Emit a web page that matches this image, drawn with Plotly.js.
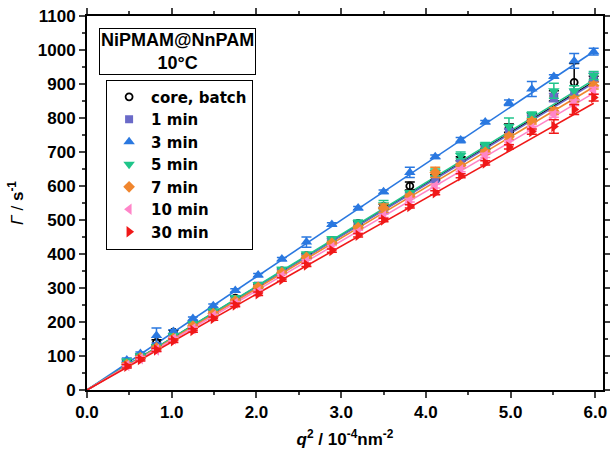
<!DOCTYPE html>
<html>
<head>
<meta charset="utf-8">
<script src="https://cdn.plot.ly/plotly-3.0.1.min.js"></script>
<style>html,body{margin:0;padding:0;background:#fff;}#chart{width:610px;height:458px;}</style>
</head>
<body>
<div id="chart"></div>
<script>
// q^2 values (10^-4 nm^-2)
const q2 = [0.47,0.63,0.82,1.02,1.25,1.49,1.75,2.02,2.30,2.59,2.89,3.20,3.50,3.81,4.11,4.41,4.70,4.98,5.25,5.51,5.75,5.98];

const seriesNames = ["core, batch","1 min","3 min","5 min","7 min","10 min","30 min"];

// Gamma values (s^-1)
const coreBatch = [82,100,140,170,195,230,270,305,350,395,440,490,540,600,625,680,715,770,805,865,905,915];
const min1  = [75,98,128,158,192,228,268,307,350,393,440,488,530,575,620,668,712,760,800,860,875,920];
const min3  = [88,107,160,172,210,248,293,338,385,435,487,535,583,640,686,735,788,845,885,922,968,995];
const min5  = [85,100,128,160,195,232,272,310,355,400,445,492,545,580,640,690,720,775,810,880,880,925];
const min7  = [75,95,124,152,188,225,262,302,345,390,432,478,535,570,640,660,700,745,790,820,855,895];
const min10 = [72,92,118,150,180,218,255,290,335,378,420,465,512,558,600,648,690,728,770,810,845,880];
const min30 = [70,90,118,145,175,210,250,283,325,368,410,455,500,540,580,630,668,715,760,775,825,860];

// error bars (s^-1)
const errCore = [6,6,8,6,6,6,6,6,6,6,6,6,6,12,8,6,6,12,8,15,55,8];
const err1  = [5,5,5,5,5,5,5,5,5,5,5,5,8,5,6,6,6,8,8,12,8,12];
const err3  = [6,5,22,5,5,5,5,5,5,15,5,5,5,15,5,8,5,8,22,5,22,10];
const err5  = [5,5,5,5,5,5,5,5,5,5,5,8,12,5,10,10,8,25,8,22,15,12];
const err7  = [5,5,5,5,5,5,5,5,5,5,5,5,12,6,15,6,6,8,8,10,8,10];
const err10 = [5,5,5,5,5,5,5,5,5,5,5,5,5,5,6,6,6,6,6,8,8,10];
const err30 = [5,5,5,5,5,5,5,5,5,5,5,5,5,5,6,6,6,6,8,20,15,10];

// linear fit slopes through origin (s^-1 per 10^-4 nm^-2)
const fitSlopes = [151.5,151,166.5,152.5,149,146,141];
const fitRange = [0, 5.98];

const values = [coreBatch,min1,min3,min5,min7,min10,min30];
const errors = [errCore,err1,err3,err5,err7,err10,err30];
const colors = ["#000000","#6a6ac8","#2a78e0","#1fc58a","#f0862e","#ff85c8","#f01818"];
const symbols = ["circle-open","square","triangle-up","triangle-down","diamond","triangle-left","triangle-right"];
const sizes = [7,8,10,10,9,10,10];

const traces = [];
// fit lines
for (let i=0;i<seriesNames.length;i++){
  traces.push({
    x: fitRange, y: fitRange.map(v=>v*fitSlopes[i]),
    mode:'lines', line:{color:colors[i], width:1.6},
    showlegend:false, hoverinfo:'skip'
  });
}
for (let i=0;i<seriesNames.length;i++){
  traces.push({
    x:q2, y:values[i], name:seriesNames[i], mode:'markers',
    marker:{symbol:symbols[i], color: i===0 ? '#000' : colors[i], size:sizes[i],
            line:{width: i===0?1.8:0, color:colors[i]}},
    error_y:{type:'data', array:errors[i], visible:true, color:colors[i], thickness:1.5, width:5}
  });
}

const FF = '"Liberation Sans", Arial, sans-serif';
const tickFont = {family:FF, size:17, color:'#000', weight:'bold'};
const layout = {
  width:610, height:458,
  margin:{l:87, r:7, t:16, b:68},
  paper_bgcolor:'#fff', plot_bgcolor:'#fff',
  font:{family:FF, color:'#000'},
  showlegend:true,
  legend:{x:0.037, y:0.83, xanchor:'left', yanchor:'top', bordercolor:'#000', borderwidth:1,
          bgcolor:'rgba(255,255,255,0)', font:{family:'"DejaVu Sans", sans-serif', size:15, weight:'bold', color:'#000'},
          tracegroupgap:0, itemwidth:34},
  xaxis:{range:[0,6.09], dtick:1, tick0:0, tickformat:'.1f', ticks:'outside', ticklen:6, tickwidth:2,
         showline:true, linewidth:2, linecolor:'#000', mirror:'allticks', showgrid:false, zeroline:false,
         tickfont:tickFont,
         minor:{dtick:0.5, ticks:'outside', ticklen:3, tickwidth:2, showgrid:false},
         title:{text:'<b><i>q</i><sup>2</sup> / 10<sup>-4</sup>nm<sup>-2</sup></b>', font:{family:FF, size:17, color:'#000'}, standoff:12}},
  yaxis:{range:[0,1100], dtick:100, tick0:0, ticks:'outside', ticklen:6, tickwidth:2,
         showline:true, linewidth:2, linecolor:'#000', mirror:'allticks', showgrid:false, zeroline:false,
         tickfont:tickFont,
         minor:{dtick:50, ticks:'outside', ticklen:3, tickwidth:2, showgrid:false},
         title:{text:'<i>Γ</i> / <b>s<sup>-1</sup></b>', font:{family:FF, size:17, color:'#000'}, standoff:10}},
  annotations:[{
    xref:'paper', yref:'paper', x:0.176, y:0.904, xanchor:'center', yanchor:'middle',
    text:'<b>NiPMAM@NnPAM<br>10°C</b>', showarrow:false, align:'center',
    font:{family:FF, size:18, color:'#000'},
    bordercolor:'#000', borderwidth:1, borderpad:1, bgcolor:'#fff'
  }]
};

Plotly.newPlot('chart', traces, layout, {displayModeBar:false, staticPlot:true});
</script>
</body>
</html>
